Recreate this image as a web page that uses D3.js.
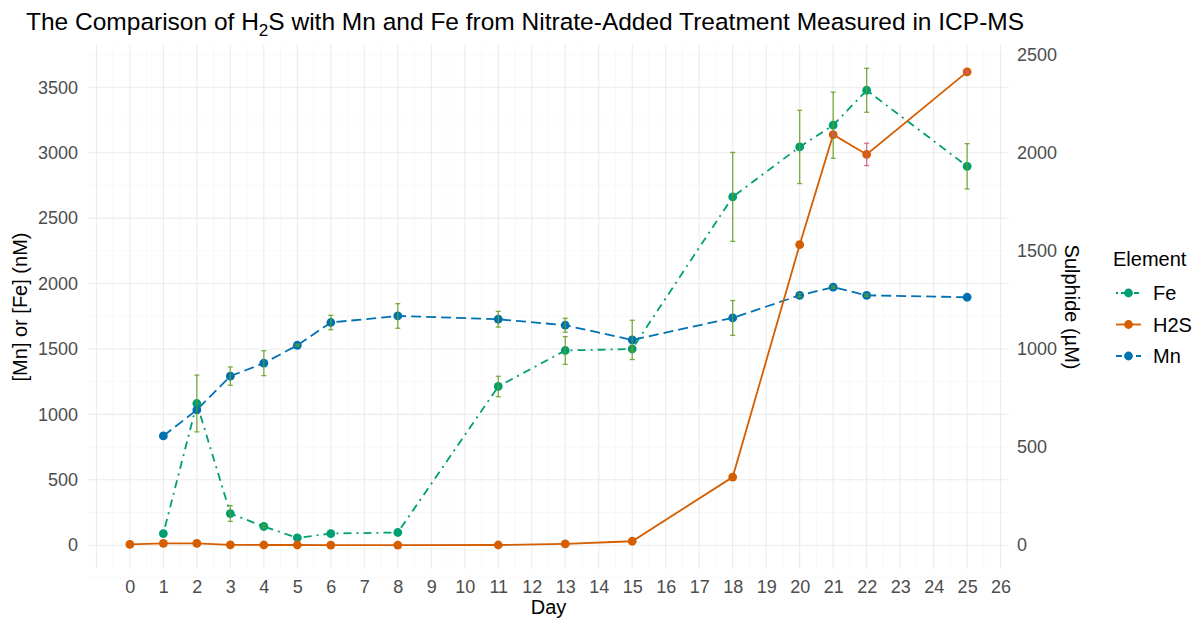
<!DOCTYPE html>
<html>
<head>
<meta charset="utf-8">
<script src="https://cdn.jsdelivr.net/npm/d3@7"></script>
<style>
  body { margin: 0; background: #fff; }
  svg { font-family: "Liberation Sans", Arial, sans-serif; }
</style>
</head>
<body>
<svg id="svg" width="1201" height="621"></svg>
<script>
const svg = d3.select("#svg");

// Fe and Mn sampled on the same days (nM)
const metalDays = [1, 2, 3, 4, 5, 6, 8, 11, 13, 15, 18, 20, 21, 22, 25];
const feValues = [89, 1083, 242, 143, 56, 89, 97, 1213, 1488, 1500, 2662, 3044, 3210, 3477, 2896];
const feErr = [0, 217, 60, 12, 0, 0, 0, 78, 106, 15, 340, 280, 253, 168, 173];
const mnValues = [835, 1034, 1292, 1391, 1528, 1702, 1752, 1727, 1681, 1569, 1737, 1910, 1972, 1910, 1895];
const mnErr = [0, 0, 70, 95, 8, 55, 94, 60, 53, 150, 133, 12, 8, 8, 0];

// sulphide (uM), plotted on the secondary axis
const h2sDays = [0, 1, 2, 3, 4, 5, 6, 8, 11, 13, 15, 18, 20, 21, 22, 25];
const h2sValues = [4, 9, 9, 2, 1, 1, 0.5, 0.5, 1, 7, 20, 347, 1531, 2092, 1991, 2412];
const h2sErr = [0, 0, 0, 0, 0, 0, 0, 0, 0, 0, 0, 0, 0, 8, 57, 5];

const xTicks = d3.range(0, 27);
const yTicks = [0, 500, 1000, 1500, 2000, 2500, 3000, 3500];
const y2Ticks = [0, 500, 1000, 1500, 2000, 2500];
const secFactor = 1.5; // nM per uM on the shared panel

const elements = ["Fe", "H2S", "Mn"];
const colors = { Fe: "#009E73", H2S: "#D55E00", Mn: "#0072B2" };
const dashes = { Fe: "2,5,8,5", H2S: null, Mn: "10,5" };

const panel = { left: 88, right: 1009, top: 45, bottom: 569 };

const x = d3.scaleLinear().domain([-1.25, 26.25]).range([panel.left, panel.right]);
const y = d3.scaleLinear().domain([-182, 3823]).range([panel.bottom, panel.top]);
const y2 = d3.scaleLinear().domain(y.domain().map((v) => v / secFactor)).range([panel.bottom, panel.top]);

const series = [
  { name: "Fe", pts: metalDays.map((d, i) => ({ day: d, v: feValues[i], e: feErr[i] })), ys: y },
  { name: "Mn", pts: metalDays.map((d, i) => ({ day: d, v: mnValues[i], e: mnErr[i] })), ys: y },
  { name: "H2S", pts: h2sDays.map((d, i) => ({ day: d, v: h2sValues[i], e: h2sErr[i] })), ys: y2 },
];

// grid
const grid = svg.append("g");
grid.selectAll(".vminor")
  .data(d3.range(-1, 26).map((d) => d + 0.5))
  .join("line")
  .attr("x1", (d) => x(d)).attr("x2", (d) => x(d))
  .attr("y1", panel.top).attr("y2", panel.bottom)
  .attr("stroke", "#f3f3f3").attr("stroke-width", 0.6);
grid.selectAll(".hminor")
  .data(d3.range(-1, 16).map((d) => d * 250).filter((d) => d % 500 !== 0))
  .join("line")
  .attr("x1", panel.left).attr("x2", panel.right)
  .attr("y1", (d) => y(d)).attr("y2", (d) => y(d))
  .attr("stroke", "#f3f3f3").attr("stroke-width", 0.6);
grid.selectAll(".vmajor")
  .data(d3.range(-1, 27))
  .join("line")
  .attr("x1", (d) => x(d)).attr("x2", (d) => x(d))
  .attr("y1", panel.top).attr("y2", panel.bottom)
  .attr("stroke", "#ebebeb").attr("stroke-width", 1.1);
grid.selectAll(".hmajor")
  .data(yTicks)
  .join("line")
  .attr("x1", panel.left).attr("x2", panel.right)
  .attr("y1", (d) => y(d)).attr("y2", (d) => y(d))
  .attr("stroke", "#ebebeb").attr("stroke-width", 1.1);

// axes
const xAxis = svg.append("g")
  .attr("transform", `translate(0,${panel.bottom})`)
  .call(d3.axisBottom(x).tickValues(xTicks).tickSize(0).tickPadding(11).tickFormat(d3.format("d")));
const yAxis = svg.append("g")
  .attr("transform", `translate(${panel.left},0)`)
  .call(d3.axisLeft(y).tickValues(yTicks).tickSize(0).tickPadding(10).tickFormat(d3.format("d")));
const y2Axis = svg.append("g")
  .attr("transform", `translate(${panel.right},0)`)
  .call(d3.axisRight(y2).tickValues(y2Ticks).tickSize(0).tickPadding(8).tickFormat(d3.format("d")));
[xAxis, yAxis, y2Axis].forEach((a) => {
  a.select(".domain").remove();
  a.selectAll("text")
    .style("font-family", "'Liberation Sans', Arial, sans-serif")
    .style("font-size", "18px")
    .attr("fill", "#4d4d4d");
});

// lines
const line = (ys) => d3.line().x((d) => x(d.day)).y((d) => ys(d.v));
svg.append("g")
  .selectAll("path")
  .data(series)
  .join("path")
  .attr("d", (s) => line(s.ys)(s.pts))
  .attr("fill", "none")
  .attr("stroke", (s) => colors[s.name])
  .attr("stroke-width", 1.8)
  .attr("stroke-dasharray", (s) => dashes[s.name]);

// points
series.forEach((s) => {
  svg.append("g")
    .selectAll("circle")
    .data(s.pts)
    .join("circle")
    .attr("cx", (d) => x(d.day))
    .attr("cy", (d) => s.ys(d.v))
    .attr("r", 4.4)
    .attr("fill", colors[s.name]);
});

// error bars
series.forEach((s) => {
  const col = s.name === "H2S" ? "#d4567f" : "#63a01f";
  const g = svg.append("g")
    .selectAll("g")
    .data(s.pts.filter((d) => d.e > 0))
    .join("g")
    .attr("stroke", col)
    .attr("stroke-opacity", 0.85)
    .attr("stroke-width", 1.3);
  g.append("line")
    .attr("x1", (d) => x(d.day)).attr("x2", (d) => x(d.day))
    .attr("y1", (d) => s.ys(d.v - d.e)).attr("y2", (d) => s.ys(d.v + d.e));
  [-1, 1].forEach((k) => {
    g.append("line")
      .attr("x1", (d) => x(d.day) - 2.5).attr("x2", (d) => x(d.day) + 2.5)
      .attr("y1", (d) => s.ys(d.v + k * d.e)).attr("y2", (d) => s.ys(d.v + k * d.e));
  });
});

// titles
const title = svg.append("text")
  .attr("x", 26).attr("y", 30)
  .style("font-size", "24.5px")
  .attr("fill", "#000");
title.append("tspan").text("The Comparison of H");
title.append("tspan").attr("dy", 6).style("font-size", "17px").text("2");
title.append("tspan").attr("dy", -6).text("S with Mn and Fe from Nitrate-Added Treatment Measured in ICP-MS");

svg.append("text")
  .attr("x", (panel.left + panel.right) / 2).attr("y", 614)
  .attr("text-anchor", "middle")
  .style("font-size", "20px")
  .text("Day");

svg.append("text")
  .attr("transform", `translate(27,${(panel.top + panel.bottom) / 2}) rotate(-90)`)
  .attr("text-anchor", "middle")
  .style("font-size", "20px")
  .text("[Mn] or [Fe] (nM)");

svg.append("text")
  .attr("transform", `translate(1065,${(panel.top + panel.bottom) / 2}) rotate(90)`)
  .attr("text-anchor", "middle")
  .style("font-size", "20px")
  .text("Sulphide (µM)");

// legend
const legend = svg.append("g").attr("transform", "translate(1113,0)");
legend.append("text")
  .attr("x", 0).attr("y", 266)
  .style("font-size", "20px")
  .text("Element");
const item = legend.selectAll(".item")
  .data(elements)
  .join("g")
  .attr("transform", (d, i) => `translate(0,${293 + i * 31.5})`);
item.append("line")
  .attr("x1", 3).attr("x2", 28)
  .attr("stroke", (d) => colors[d])
  .attr("stroke-width", 1.8)
  .attr("stroke-dasharray", (d) => (d === "Fe" ? "2,3,5,3" : d === "Mn" ? "6,4" : null));
item.append("circle")
  .attr("cx", 15.5).attr("r", 4.4)
  .attr("fill", (d) => colors[d]);
item.append("text")
  .attr("x", 40).attr("dy", "0.36em")
  .style("font-size", "20px")
  .text((d) => d);
</script>
</body>
</html>
